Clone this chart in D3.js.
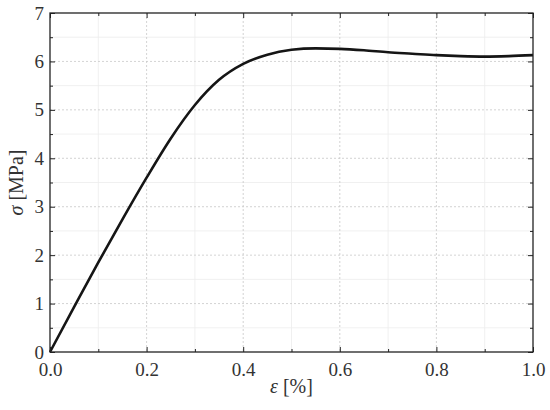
<!DOCTYPE html>
<html>
<head>
<meta charset="utf-8">
<script src="https://cdn.jsdelivr.net/npm/d3@7"></script>
<style>
  body { margin: 0; background: #fff; }
  text { font-family: "Liberation Serif", "DejaVu Serif", serif; fill: #222; }
</style>
</head>
<body>
<div id="chart"></div>
<script>
// strain [%] and stress [MPa]
var strain = [0, 0.05, 0.1, 0.15, 0.2, 0.25, 0.3, 0.35, 0.4, 0.45, 0.5, 0.55, 0.6, 0.65, 0.7, 0.75, 0.8, 0.85, 0.9, 0.95, 1.0];
var stress = [0, 0.93, 1.85, 2.74, 3.6, 4.41, 5.1, 5.62, 5.95, 6.14, 6.24, 6.27, 6.26, 6.23, 6.19, 6.16, 6.13, 6.11, 6.10, 6.11, 6.13];
var xTicks = [0, 0.2, 0.4, 0.6, 0.8, 1.0];
var yTicks = [0, 1, 2, 3, 4, 5, 6, 7];

function draw() {
  var W = 550, H = 410;
  var margin = {top: 13, right: 17, bottom: 58, left: 50};
  var w = W - margin.left - margin.right, h = H - margin.top - margin.bottom;

  var svg = d3.select("#chart").append("svg")
      .attr("width", W).attr("height", H);
  var g = svg.append("g").attr("transform", "translate(" + margin.left + "," + margin.top + ")");

  var x = d3.scaleLinear().domain([0, 1]).range([0, w]);
  var y = d3.scaleLinear().domain([0, 7]).range([h, 0]);

  var xMinor = d3.range(0.1, 1, 0.2);
  var yMinor = d3.range(0.5, 7, 1);

  // minor grid
  g.selectAll(".gxm").data(xMinor).enter().append("line")
      .attr("x1", d => x(d)).attr("x2", d => x(d)).attr("y1", 0).attr("y2", h)
      .style("stroke", "#ececec").style("stroke-width", 0.8);
  g.selectAll(".gym").data(yMinor).enter().append("line")
      .attr("x1", 0).attr("x2", w).attr("y1", d => y(d)).attr("y2", d => y(d))
      .style("stroke", "#ececec").style("stroke-width", 0.8);
  // major grid
  g.selectAll(".gx").data(xTicks.slice(1, -1)).enter().append("line")
      .attr("x1", d => x(d)).attr("x2", d => x(d)).attr("y1", 0).attr("y2", h)
      .style("stroke", "#c8c8c8").style("stroke-width", 0.8).style("stroke-dasharray", "2,2");
  g.selectAll(".gy").data(yTicks.slice(1, -1)).enter().append("line")
      .attr("x1", 0).attr("x2", w).attr("y1", d => y(d)).attr("y2", d => y(d))
      .style("stroke", "#c8c8c8").style("stroke-width", 0.8).style("stroke-dasharray", "2,2");

  // curve
  var pts = strain.map((s, i) => [s, stress[i]]);
  g.append("path").datum(pts)
      .attr("d", d3.line().x(d => x(d[0])).y(d => y(d[1])).curve(d3.curveMonotoneX))
      .style("fill", "none").style("stroke", "#151515").style("stroke-width", 2.6);

  // axes with inward ticks
  function styleAxis(sel) {
    sel.select(".domain").remove();
    sel.selectAll(".tick line").style("stroke", "#222").style("stroke-width", 1);
    sel.selectAll("text").style("font-size", "19px").style("font-family", "'Liberation Serif', serif").style("fill", "#333");
  }
  var axB = g.append("g").attr("transform", "translate(0," + h + ")")
      .call(d3.axisBottom(x).tickValues(xTicks).tickFormat(d3.format(".1f")).tickSizeInner(-5).tickPadding(11));
  styleAxis(axB);
  var axL = g.append("g")
      .call(d3.axisLeft(y).tickValues(yTicks).tickFormat(d3.format("d")).tickSizeInner(-5).tickPadding(6));
  styleAxis(axL);
  var axT = g.append("g").call(d3.axisTop(x).tickValues(xTicks).tickFormat("").tickSizeInner(-5));
  styleAxis(axT);
  var axR = g.append("g").attr("transform", "translate(" + w + ",0)")
      .call(d3.axisRight(y).tickValues(yTicks).tickFormat("").tickSizeInner(-5));
  styleAxis(axR);
  // minor ticks
  [[d3.axisBottom(x), h], [d3.axisTop(x), 0]].forEach(function (a) {
    var s = g.append("g").attr("transform", "translate(0," + a[1] + ")")
        .call(a[0].tickValues(xMinor).tickFormat("").tickSizeInner(-3));
    styleAxis(s);
  });
  [[d3.axisLeft(y), 0], [d3.axisRight(y), w]].forEach(function (a) {
    var s = g.append("g").attr("transform", "translate(" + a[1] + ",0)")
        .call(a[0].tickValues(yMinor).tickFormat("").tickSizeInner(-3));
    styleAxis(s);
  });

  // frame
  g.append("rect").attr("width", w).attr("height", h)
      .style("fill", "none").style("stroke", "#222").style("stroke-width", 1.3);

  // axis labels
  var xl = svg.append("text").attr("x", margin.left + w / 2).attr("y", 393)
      .attr("text-anchor", "middle").style("font-size", "20px").style("fill", "#333");
  xl.append("tspan").style("font-style", "italic").text("ε");
  xl.append("tspan").text(" [%]");
  var yl = svg.append("text").attr("transform", "translate(23," + (margin.top + h / 2) + ") rotate(-90)")
      .attr("text-anchor", "middle").style("font-size", "20px").style("fill", "#333");
  yl.append("tspan").style("font-style", "italic").text("σ");
  yl.append("tspan").text(" [MPa]");
}

draw();
</script>
</body>
</html>
